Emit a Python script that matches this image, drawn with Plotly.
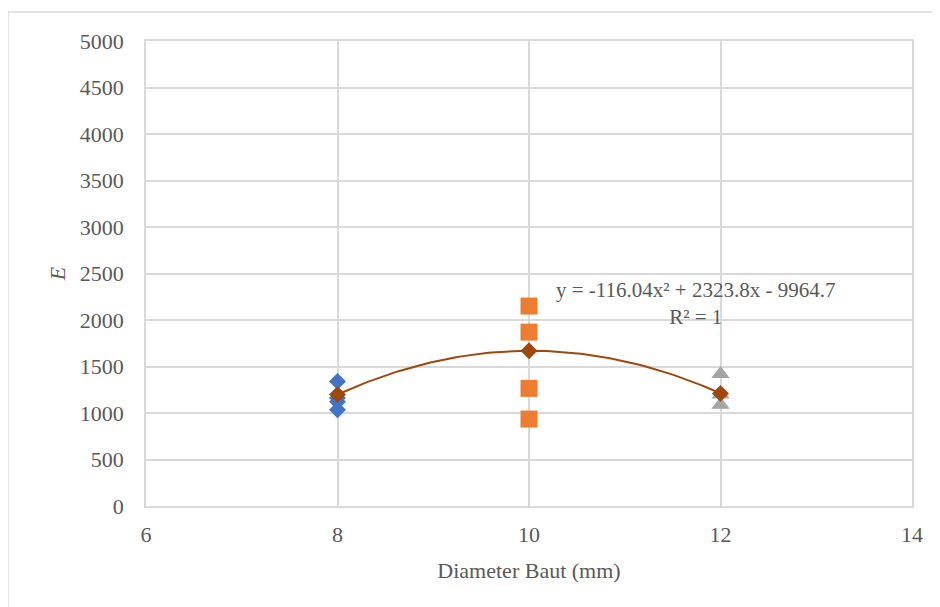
import numpy as np
import plotly.graph_objects as go

# Data
x_blue = [8, 8, 8, 8]
y_blue = [1340, 1160, 1120, 1035]
x_orange = [10, 10, 10, 10]
y_orange = [2150, 1870, 1265, 935]
x_gray = [12, 12, 12]
y_gray = [1420, 1200, 1090]
x_mean = [8, 10, 12]
y_mean = [1199, 1669, 1211]

x_ticks = [6, 8, 10, 12, 14]
y_ticks = [0, 500, 1000, 1500, 2000, 2500, 3000, 3500, 4000, 4500, 5000]

coef = np.polyfit(x_mean, y_mean, 2)
xs = np.linspace(min(x_mean), max(x_mean), 100)
ys = np.polyval(coef, xs)

FONT = "Liberation Serif"
GREY = "#595959"
fig = go.Figure()
fig.add_trace(go.Scatter(x=x_blue, y=y_blue, mode="markers",
                         marker=dict(symbol="diamond", size=13, color="#4472C4")))
fig.add_trace(go.Scatter(x=x_orange, y=y_orange, mode="markers",
                         marker=dict(symbol="square", size=17, color="#ED7D31")))
fig.add_trace(go.Scatter(x=x_gray, y=y_gray, mode="markers",
                         marker=dict(symbol="triangle-up", size=16, color="#A5A5A5")))
fig.add_trace(go.Scatter(x=xs, y=ys, mode="lines",
                         line=dict(color="#9E480E", width=2)))
fig.add_trace(go.Scatter(x=x_mean, y=y_mean, mode="markers",
                         marker=dict(symbol="diamond", size=13, color="#9E480E")))

fig.add_annotation(xref="paper", yref="paper", x=0.717, y=0.435,
                   xanchor="center", yanchor="middle",
                   text="y = -116.04x² + 2323.8x - 9964.7<br>R² = 1",
                   showarrow=False, align="center",
                   font=dict(family=FONT, size=21, color=GREY))

fig.add_shape(type="line", xref="paper", yref="paper",
              x0=-0.1802, x1=1.1, y0=1.0624, y1=1.0624,
              line=dict(color="#D9D9D9", width=1.5))
fig.add_shape(type="line", xref="paper", yref="paper",
              x0=-0.1802, x1=-0.1802, y0=-0.3, y1=1.0624,
              line=dict(color="#D9D9D9", width=1.5))

fig.update_layout(
    width=940, height=607,
    margin=dict(l=138, r=36, t=33, b=109),
    paper_bgcolor="white", plot_bgcolor="white",
    showlegend=False,
    font=dict(family=FONT, size=24, color=GREY),
    xaxis=dict(range=[6, 14], tickvals=x_ticks, ticktext=[str(v) for v in x_ticks],
               showgrid=True, gridcolor="#D9D9D9", gridwidth=1.5,
               showline=True, linecolor="#D9D9D9", linewidth=1.5, mirror=True,
               zeroline=False, ticks="outside", ticklen=8, tickcolor="rgba(0,0,0,0)",
               title=dict(text="Diameter Baut (mm)", font=dict(family=FONT, size=22, color=GREY),
                          standoff=16),
               tickfont=dict(family=FONT, size=22, color=GREY)),
    yaxis=dict(range=[0, 5000], tickvals=y_ticks,
               showgrid=True, gridcolor="#D9D9D9", gridwidth=1.5,
               showline=True, linecolor="#D9D9D9", linewidth=1.5, mirror=True,
               zeroline=False, ticks="outside", ticklen=16, tickcolor="rgba(0,0,0,0)",
               title=dict(text="<i>E</i>", font=dict(family=FONT, size=22, color=GREY),
                          standoff=8),
               tickfont=dict(family=FONT, size=22, color=GREY)),
)
fig.write_html("out.html")
